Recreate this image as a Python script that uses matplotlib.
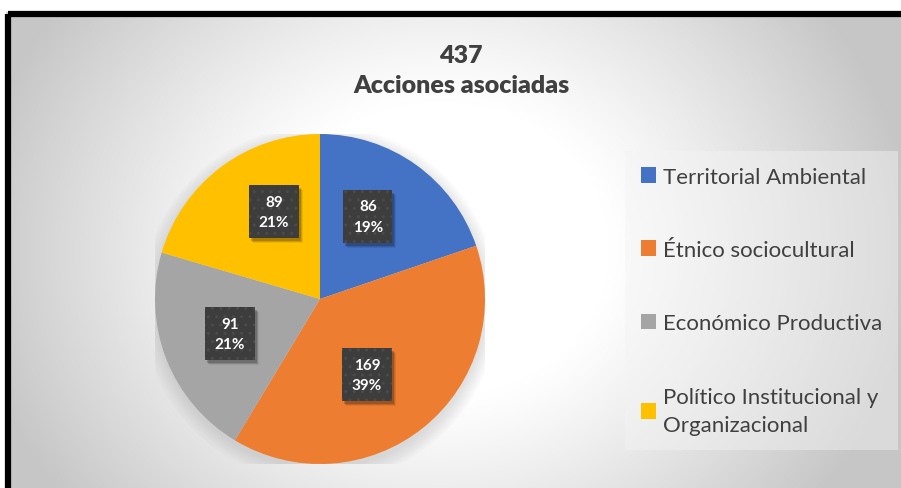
import numpy as np
import matplotlib.pyplot as plt
from matplotlib.patches import Patch, Rectangle, Circle
from matplotlib.transforms import IdentityTransform

plt.rcParams['font.family'] = ['Lato', 'DejaVu Sans']

categorias = ['Territorial Ambiental', 'Étnico sociocultural',
              'Económico Productiva', 'Político Institucional y\nOrganizacional']
valores = [86, 169, 91, 89]
porcentajes = ['19%', '39%', '21%', '21%']
colores = ['#4472C4', '#ED7D31', '#A5A5A5', '#FFC000']
titulo = '437\nAcciones asociadas'

# where excel put the data labels (pie radius = 1)
pos_etiquetas = [(0.29, 0.50), (0.285, -0.46), (-0.545, -0.21), (-0.28, 0.53)]

W, H = 901, 489
fig = plt.figure(figsize=(W / 100, H / 100), dpi=100)

# background with radial gradient and black frame
bg = fig.add_axes([0, 0, 1, 1])
bg.set_xlim(0, W)
bg.set_ylim(H, 0)
bg.axis('off')
yy, xx = np.mgrid[0:H, 0:W]
r = np.hypot(xx - 440, (yy - 250) * 1.15)
c = 1 - 0.22 * np.clip((r - 170) / 300, 0, 1) ** 1.1
img = np.dstack([c, c, c])
bg.imshow(img, extent=[0, W, H, 0], aspect='auto', zorder=0)
bg.add_patch(Rectangle((0, 0), W, 12, color='white', zorder=1))
bg.add_patch(Rectangle((0, 0), 5, H, color='white', zorder=1))
bg.add_patch(Rectangle((8, 14.5), W + 20, H + 20, fill=False, ec='black', lw=4.5, zorder=2))

fig.text(461 / W, 1 - 71 / H, titulo, ha='center', va='center', fontsize=18,
         fontweight='heavy', color='#404040', linespacing=1.45)

# pie
ax = fig.add_axes([155 / W, 1 - 465 / H, 330 / W, 330 / H])
ax.set_aspect('equal')
ax.axis('off')
for k in range(8):
    ax.add_patch(Circle((0.0, -0.03), 1.0 + 0.012 * k, color='#909090', alpha=0.035, lw=0, zorder=0))
wedges, _ = ax.pie(valores, colors=colores, startangle=90, counterclock=False,
                   radius=1, wedgeprops=dict(lw=0), frame=False)
ax.set_xlim(-1, 1)
ax.set_ylim(-1, 1)

etiquetas = []
for v, p, (x, y) in zip(valores, porcentajes, pos_etiquetas):
    t = ax.text(x, y, f'{v}\n{p}', ha='center', va='center', fontsize=11,
                fontweight='bold', color='white', linespacing=1.55,
                bbox=dict(boxstyle='square,pad=0.62', fc='#3d3d3d', ec='#4b4b4b', lw=0, hatch='..'),
                zorder=5)
    etiquetas.append(t)

# legend
handles = [Patch(fc=col, ec='none') for col in colores]
leg = fig.legend(handles, categorias, loc='upper left',
                 bbox_to_anchor=(625 / W, 1 - 152 / H), borderaxespad=0,
                 fontsize=16, frameon=True, fancybox=False, borderpad=0.7,
                 labelspacing=2.4, handlelength=0.7, handleheight=0.7,
                 handletextpad=0.3, labelcolor='#404040')
for t in leg.get_texts():
    t.set_linespacing(1.5)
leg.get_frame().set_facecolor('#f4f4f4')
leg.get_frame().set_alpha(0.45)
leg.get_frame().set_edgecolor('none')

# soft drop shadow behind each label box
fig.canvas.draw()
renderer = fig.canvas.get_renderer()
for t in etiquetas:
    bb = t.get_bbox_patch().get_window_extent(renderer)
    for k, a in enumerate([0.18, 0.12, 0.07]):
        ax.add_patch(Rectangle((bb.x0 + 2 + k, bb.y0 - 3 - k), bb.width, bb.height,
                               transform=IdentityTransform(), fc='black', ec='none',
                               alpha=a, zorder=4))

fig.savefig('out.png', dpi=100)
